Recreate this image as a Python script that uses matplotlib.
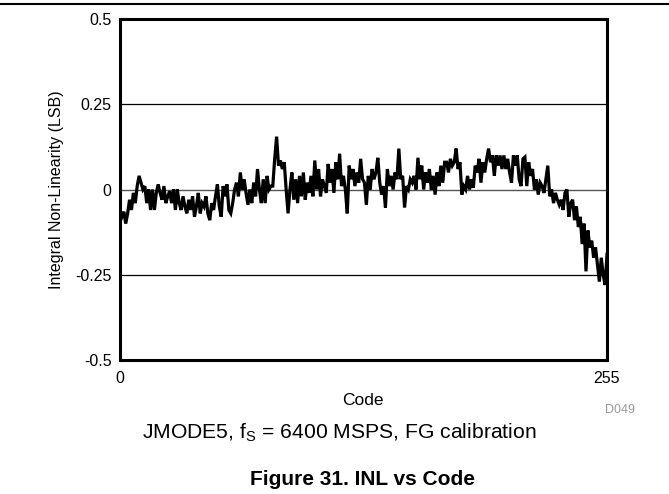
import matplotlib
matplotlib.use("Agg")
import matplotlib.pyplot as plt
from matplotlib.lines import Line2D

plt.rcParams['font.family'] = ['Liberation Sans', 'DejaVu Sans']
plt.rcParams['mathtext.fontset'] = 'custom'
plt.rcParams['mathtext.rm'] = 'Liberation Sans'
plt.rcParams['mathtext.it'] = 'Liberation Sans'

codes = list(range(256))
inl = [
    -0.07, -0.08, -0.065, -0.10, -0.07, -0.03, -0.06, -0.01, -0.04, 0.01, 0.04, 0.02, 0.0, 0.01, -0.04, 0.0,
    -0.06, 0.0, -0.06, -0.01, 0.015, -0.01, -0.03, 0.01, -0.04, -0.02, -0.005, -0.04, 0.0, -0.06, 0.0, -0.04,
    -0.06, -0.02, -0.05, -0.07, -0.03, -0.06, -0.02, -0.08, -0.05, -0.01, -0.07, -0.04, -0.05, -0.02, -0.07, -0.09,
    -0.04, -0.06, -0.02, 0.015, -0.05, -0.08, 0.01, -0.02, 0.015, -0.06, -0.07, -0.04, 0.0, 0.02, -0.02, 0.05,
    0.0, 0.03, -0.01, -0.045, 0.0, -0.04, 0.02, -0.02, 0.06, 0.0, -0.04, 0.03, -0.04, 0.04, 0.0, 0.01,
    0.01, 0.09, 0.155, 0.07, 0.085, 0.06, 0.08, 0.0, -0.07, 0.0, 0.05, -0.03, 0.03, -0.04, 0.04, -0.02,
    0.05, -0.03, 0.02, -0.01, 0.04, -0.02, 0.085, 0.0, 0.06, -0.02, 0.03, 0.01, -0.01, 0.075, 0.02, 0.06,
    -0.01, 0.08, 0.03, 0.105, 0.01, 0.04, 0.0, -0.07, 0.07, 0.03, 0.06, 0.01, 0.05, 0.02, 0.09, 0.03,
    0.02, -0.045, 0.04, 0.0, 0.06, 0.03, 0.05, 0.093, 0.02, -0.015, 0.01, -0.053, 0.06, 0.01, 0.04, 0.0,
    0.05, 0.03, 0.12, 0.03, 0.04, -0.053, 0.01, 0.0, 0.03, 0.02, 0.04, 0.0, 0.093, 0.03, 0.07, 0.0,
    0.05, 0.02, 0.06, 0.0, 0.04, -0.015, 0.05, 0.01, 0.07, 0.02, 0.08, 0.08, 0.05, 0.09, 0.07, 0.08,
    0.12, 0.06, 0.08, -0.015, 0.01, 0.0, 0.04, 0.0, 0.03, 0.005, 0.07, 0.05, 0.09, 0.02, 0.08, 0.05,
    0.09, 0.12, 0.08, 0.10, 0.04, 0.10, 0.07, 0.10, 0.06, 0.10, 0.06, 0.09, 0.05, 0.02, 0.10, 0.07,
    0.10, 0.03, 0.01, 0.09, 0.095, 0.01, 0.08, 0.04, 0.06, 0.0, 0.03, -0.015, 0.02, 0.01, -0.01, 0.03,
    0.07, -0.02, 0.0, -0.04, -0.01, -0.03, -0.045, -0.03, -0.06, -0.01, 0.0, -0.08, -0.04, -0.03, -0.09, -0.05,
    -0.11, -0.08, -0.16, -0.10, -0.24, -0.12, -0.17, -0.15, -0.20, -0.17, -0.22, -0.27, -0.20, -0.25, -0.28, -0.19,
]

yticks = [-0.5, -0.25, 0, 0.25, 0.5]
ytick_labels = ['-0.5', '-0.25', '0', '0.25', '0.5']
xticks = [0, 255]
xtick_labels = ['0', '255']

fig = plt.figure(figsize=(6.69, 4.94), dpi=100)
ax = fig.add_axes([120/669, 1-360/494, (607-120)/669, (360-19)/494])

for yv in [-0.25, 0.25]:
    ax.axhline(yv, color='black', lw=0.9, zorder=1)
ax.axhline(0, color='#555555', lw=1.0, zorder=1)

ax.plot(codes, inl, color='black', lw=2.3, zorder=3, solid_joinstyle='miter')

ax.set_xlim(0, 255)
ax.set_ylim(-0.5, 0.5)
ax.set_yticks(yticks)
ax.set_yticklabels(ytick_labels)
ax.set_xticks(xticks)
ax.set_xticklabels(xtick_labels)
ax.tick_params(length=0, labelsize=11.5, pad=6)
ax.tick_params(axis='x', pad=8)
for s in ax.spines.values():
    s.set_linewidth(2.2)
    s.set_color('black')

ax.set_ylabel('Integral Non-Linearity (LSB)', fontsize=11.5, labelpad=8)

fig.text(363/669, 1-400/494, 'Code', ha='center', va='center', fontsize=12.5)
fig.text(635/669, 1-410/494, 'D049', ha='right', va='center', fontsize=9, color='#999999')
fig.text(339/669, 1-433/494, r'JMODE5, f$_{\mathrm{S}}$ = 6400 MSPS, FG calibration',
         ha='center', va='center', fontsize=15.2)
fig.text(363/669, 1-479/494, 'Figure 31. INL vs Code', ha='center', va='center',
         fontsize=15, fontweight='bold')

fig.add_artist(Line2D([0, 1], [1-4/494, 1-4/494], color='black', lw=1.5, transform=fig.transFigure))

fig.savefig('out.png', dpi=100)
